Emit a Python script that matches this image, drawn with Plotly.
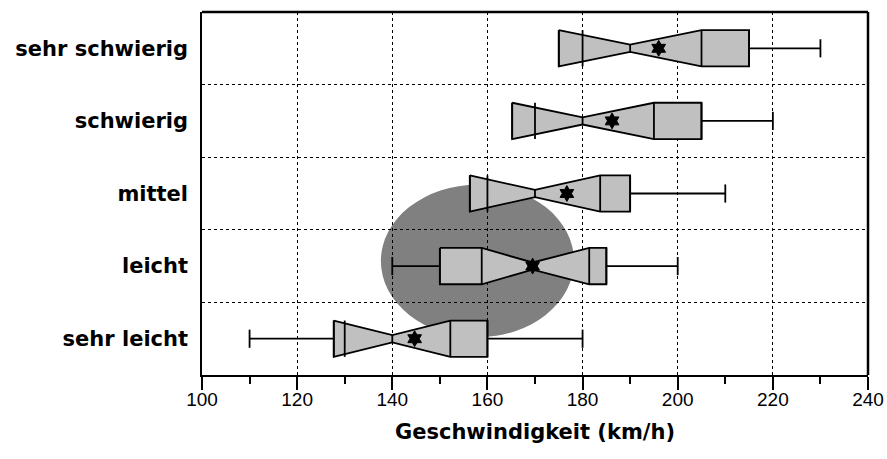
import plotly.graph_objects as go

# ---- data ----
categories = ["sehr leicht", "leicht", "mittel", "schwierig", "sehr schwierig"]
whisker_lo = [110, 140, 160, 170, 180]
q1 = [130, 150, 160, 170, 180]
notch_lo = [127.7, 158.8, 156.3, 165.2, 175]
median = [140, 169.5, 170, 180, 190]
notch_hi = [152.2, 181.4, 183.7, 195, 205]
q3 = [160, 185, 190, 205, 215]
whisker_hi = [180, 200, 210, 220, 230]
mean = [144.7, 169.5, 176.7, 186.2, 196]

# highlighted region (ellipse) in data units
ellipse_x = [137.6, 178.2]
ellipse_y = [0.02, 2.12]

x_ticks = [100, 120, 140, 160, 180, 200, 220, 240]

BOX_H = 0.25
WAIST_H = 0.05
CAP_H = 0.125
LINE_W = 1.8

fig = go.Figure()

# whiskers
wx, wy = [], []
for i in range(len(categories)):
    a = min(q1[i], notch_lo[i])
    b = max(q3[i], notch_hi[i])
    if whisker_lo[i] < a:
        wx += [whisker_lo[i], a, None, whisker_lo[i], whisker_lo[i], None]
        wy += [i, i, None, i - CAP_H, i + CAP_H, None]
    wx += [b, whisker_hi[i], None, whisker_hi[i], whisker_hi[i], None]
    wy += [i, i, None, i - CAP_H, i + CAP_H, None]
fig.add_trace(go.Scatter(x=wx, y=wy, mode="lines", line=dict(color="black", width=LINE_W),
                         hoverinfo="skip", showlegend=False))

# notched boxes
for i in range(len(categories)):
    a = min(q1[i], notch_lo[i])
    b = max(q3[i], notch_hi[i])
    px = [a, notch_lo[i], median[i], notch_hi[i], b, b, notch_hi[i], median[i], notch_lo[i], a, a]
    py = [i + BOX_H, i + BOX_H, i + WAIST_H, i + BOX_H, i + BOX_H,
          i - BOX_H, i - BOX_H, i - WAIST_H, i - BOX_H, i - BOX_H, i + BOX_H]
    fig.add_trace(go.Scatter(x=px, y=py, mode="lines", fill="toself", fillcolor="#c0c0c0",
                             line=dict(color="black", width=LINE_W), hoverinfo="skip",
                             showlegend=False))

# inner vertical lines
lx, ly = [], []
for i in range(len(categories)):
    for v in (q1[i], q3[i], notch_lo[i], notch_hi[i]):
        lx += [v, v, None]
        ly += [i - BOX_H, i + BOX_H, None]
    lx += [median[i], median[i], None]
    ly += [i - WAIST_H, i + WAIST_H, None]
fig.add_trace(go.Scatter(x=lx, y=ly, mode="lines", line=dict(color="black", width=LINE_W),
                         hoverinfo="skip", showlegend=False))

# means
fig.add_trace(go.Scatter(x=mean, y=list(range(len(categories))), mode="markers",
                         marker=dict(symbol="hexagram", size=12, color="black",
                                     line=dict(color="black", width=1)),
                         showlegend=False))

# ellipse
fig.add_shape(type="circle", xref="x", yref="y",
              x0=ellipse_x[0], x1=ellipse_x[1], y0=ellipse_y[0], y1=ellipse_y[1],
              fillcolor="#808080", line=dict(width=0), layer="below")

# thicker top and right frame
fig.add_shape(type="line", xref="paper", yref="paper", x0=0, x1=1, y0=1, y1=1,
              line=dict(color="black", width=2.5))
fig.add_shape(type="line", xref="paper", yref="paper", x0=1, x1=1, y0=0, y1=1,
              line=dict(color="black", width=2.5))

fig.update_layout(
    width=887, height=459,
    margin=dict(l=202, r=19, t=12, b=84),
    paper_bgcolor="white", plot_bgcolor="white",
    showlegend=False,
)

fig.update_xaxes(
    range=[100, 240], tickmode="array", tickvals=x_ticks, ticktext=[str(v) for v in x_ticks],
    automargin=False,
    showline=True, linecolor="black", linewidth=1.5,
    ticks="outside", ticklen=13, tickwidth=1.5, tickcolor="black",
    tickfont=dict(family="Liberation Sans, Arial", size=19, color="black"),
    ticklabelstandoff=-7,
    showgrid=True, gridcolor="black", gridwidth=1, griddash="3px,3px",
    minor=dict(dtick=10, tick0=100, ticks="outside", ticklen=7, tickwidth=1.5,
               tickcolor="black", showgrid=False),
    zeroline=False,
    title=dict(text="Geschwindigkeit (km/h)", standoff=16,
               font=dict(family="DejaVu Sans", size=21, color="black", weight="bold")),
)

fig.update_yaxes(
    range=[-0.5, 4.5], tickmode="array", tickvals=list(range(len(categories))),
    ticktext=categories, ticks="", showgrid=False, automargin=False,
    showline=True, linecolor="black", linewidth=1.5,
    tickfont=dict(family="DejaVu Sans", size=21, color="black", weight="bold"),
    ticklabelstandoff=8,
    minor=dict(tickmode="array", tickvals=[0.5, 1.5, 2.5, 3.5], showgrid=True,
               gridcolor="black", gridwidth=1, griddash="3px,3px", ticks=""),
    zeroline=False,
)

# remove the default page margin so the figure fills the window exactly
fig.write_html("out.html", config={"displayModeBar": False},
               post_script="document.body.style.margin='0';document.body.style.overflow='hidden';")
